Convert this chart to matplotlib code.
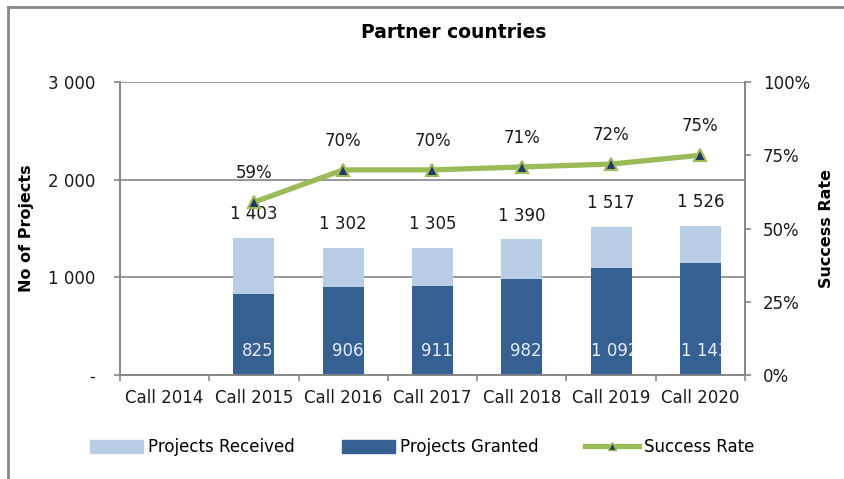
import matplotlib.pyplot as plt
import numpy as np
from matplotlib.lines import Line2D
from matplotlib.patches import Patch
from matplotlib.ticker import FuncFormatter, FixedLocator

calls = ["Call 2014", "Call 2015", "Call 2016", "Call 2017", "Call 2018", "Call 2019", "Call 2020"]
received = [np.nan, 1403, 1302, 1305, 1390, 1517, 1526]
granted = [np.nan, 825, 906, 911, 982, 1092, 1143]
success = [np.nan, 0.59, 0.70, 0.70, 0.71, 0.72, 0.75]

LIGHT = "#B9CDE5"
DARK = "#376092"
GREEN = "#9BBB59"
NAVY = "#1F3864"
GREY = "#868686"
TXT = "#1a1a1a"

plt.rcParams["font.family"] = ["DejaVu Sans"]


def thousands(v, pos):
    if v == 0:
        return "-"
    return f"{int(v):,}".replace(",", " ")


def main():
    fig = plt.figure(figsize=(8.45, 4.79), dpi=100)
    ax = fig.add_axes([120 / 845, 1 - 375 / 479, 625 / 845, 293 / 479])
    ax2 = ax.twinx()

    x = np.arange(len(calls))
    width = 0.46
    ax.set_axisbelow(True)
    ax.bar(x, received, width, color=LIGHT, zorder=2)
    bars_g = ax.bar(x, granted, width, color=DARK, zorder=3)

    for i, (r, g) in enumerate(zip(received, granted)):
        if np.isnan(r):
            continue
        ax.annotate(thousands(r, None), (x[i], r), xytext=(0, 17), textcoords="offset points",
                    ha="center", va="center", fontsize=12, color=TXT, zorder=5)
        t = ax.annotate(thousands(g, None), (x[i], 0), xytext=(3, 17), textcoords="offset points",
                        ha="center", va="center", fontsize=12, color="#E4ECF5", zorder=5)
        t.set_clip_path(bars_g[i])

    ax.set_ylim(0, 3000)
    ax.set_xlim(-0.5, len(calls) - 0.5)
    ax.yaxis.set_major_locator(FixedLocator([0, 1000, 2000, 3000]))
    ax.yaxis.set_major_formatter(FuncFormatter(thousands))
    ax.grid(axis="y", color=GREY, linewidth=1.2)
    ax.set_xticks(x)
    ax.set_xticklabels(calls)
    ax.set_xticks(np.arange(-0.5, len(calls)), minor=True)
    ax.tick_params(axis="x", which="major", length=0, pad=10, labelsize=12, labelcolor=TXT)
    ax.tick_params(axis="x", which="minor", length=4, width=1.2, color=GREY)
    ax.tick_params(axis="y", length=4, width=1.2, color=GREY, labelsize=12, pad=14, labelcolor=TXT)

    ax2.plot(x, success, color=GREEN, linewidth=3.8, marker="^", markersize=8,
             markerfacecolor=NAVY, markeredgecolor=GREEN, markeredgewidth=1.5, zorder=4)
    for i, s in enumerate(success):
        if np.isnan(s):
            continue
        ax2.annotate(f"{s:.0%}", (x[i], s), xytext=(0, 21), textcoords="offset points",
                     ha="center", va="center", fontsize=12, color=TXT)
    ax2.set_ylim(0, 1)
    ax2.set_yticks([0, 0.25, 0.5, 0.75, 1.0])
    ax2.set_yticklabels(["0%", "25%", "50%", "75%", "100%"])
    ax2.tick_params(axis="y", length=4, width=1.2, color=GREY, labelsize=12, pad=9, labelcolor=TXT)

    for a in (ax, ax2):
        for sp in a.spines.values():
            sp.set_color(GREY)
            sp.set_linewidth(1.2)
        a.spines["top"].set_visible(False)

    ax.set_ylabel("No of Projects", fontsize=11.5, fontweight="bold", labelpad=10)
    ax2.set_ylabel("Success Rate", fontsize=11.5, fontweight="bold", labelpad=6)

    fig.text(454 / 845, 1 - 33 / 479, "Partner countries", ha="center", va="center",
             fontsize=13.5, fontweight="heavy")

    handles = [Patch(color=LIGHT), Patch(color=DARK),
               Line2D([], [], color=GREEN, linewidth=3.8, marker="^", markersize=6,
                      markerfacecolor=NAVY, markeredgecolor=GREEN)]
    fig.legend(handles, ["Projects Received", "Projects Granted", "Success Rate"],
               loc="center", bbox_to_anchor=(422 / 845, 1 - 447 / 479), ncol=3,
               frameon=False, fontsize=12, handlelength=3.2, handleheight=0.8,
               handletextpad=0.3, columnspacing=2.8)

    fig.add_artist(Line2D([8 / 845, 8 / 845], [0, 1 - 7 / 479], color=GREY, linewidth=2,
                          transform=fig.transFigure))
    fig.add_artist(Line2D([8 / 845, 1], [1 - 7 / 479, 1 - 7 / 479], color=GREY, linewidth=2,
                          transform=fig.transFigure))

    fig.savefig("out.png", dpi=100)


if __name__ == "__main__":
    main()
